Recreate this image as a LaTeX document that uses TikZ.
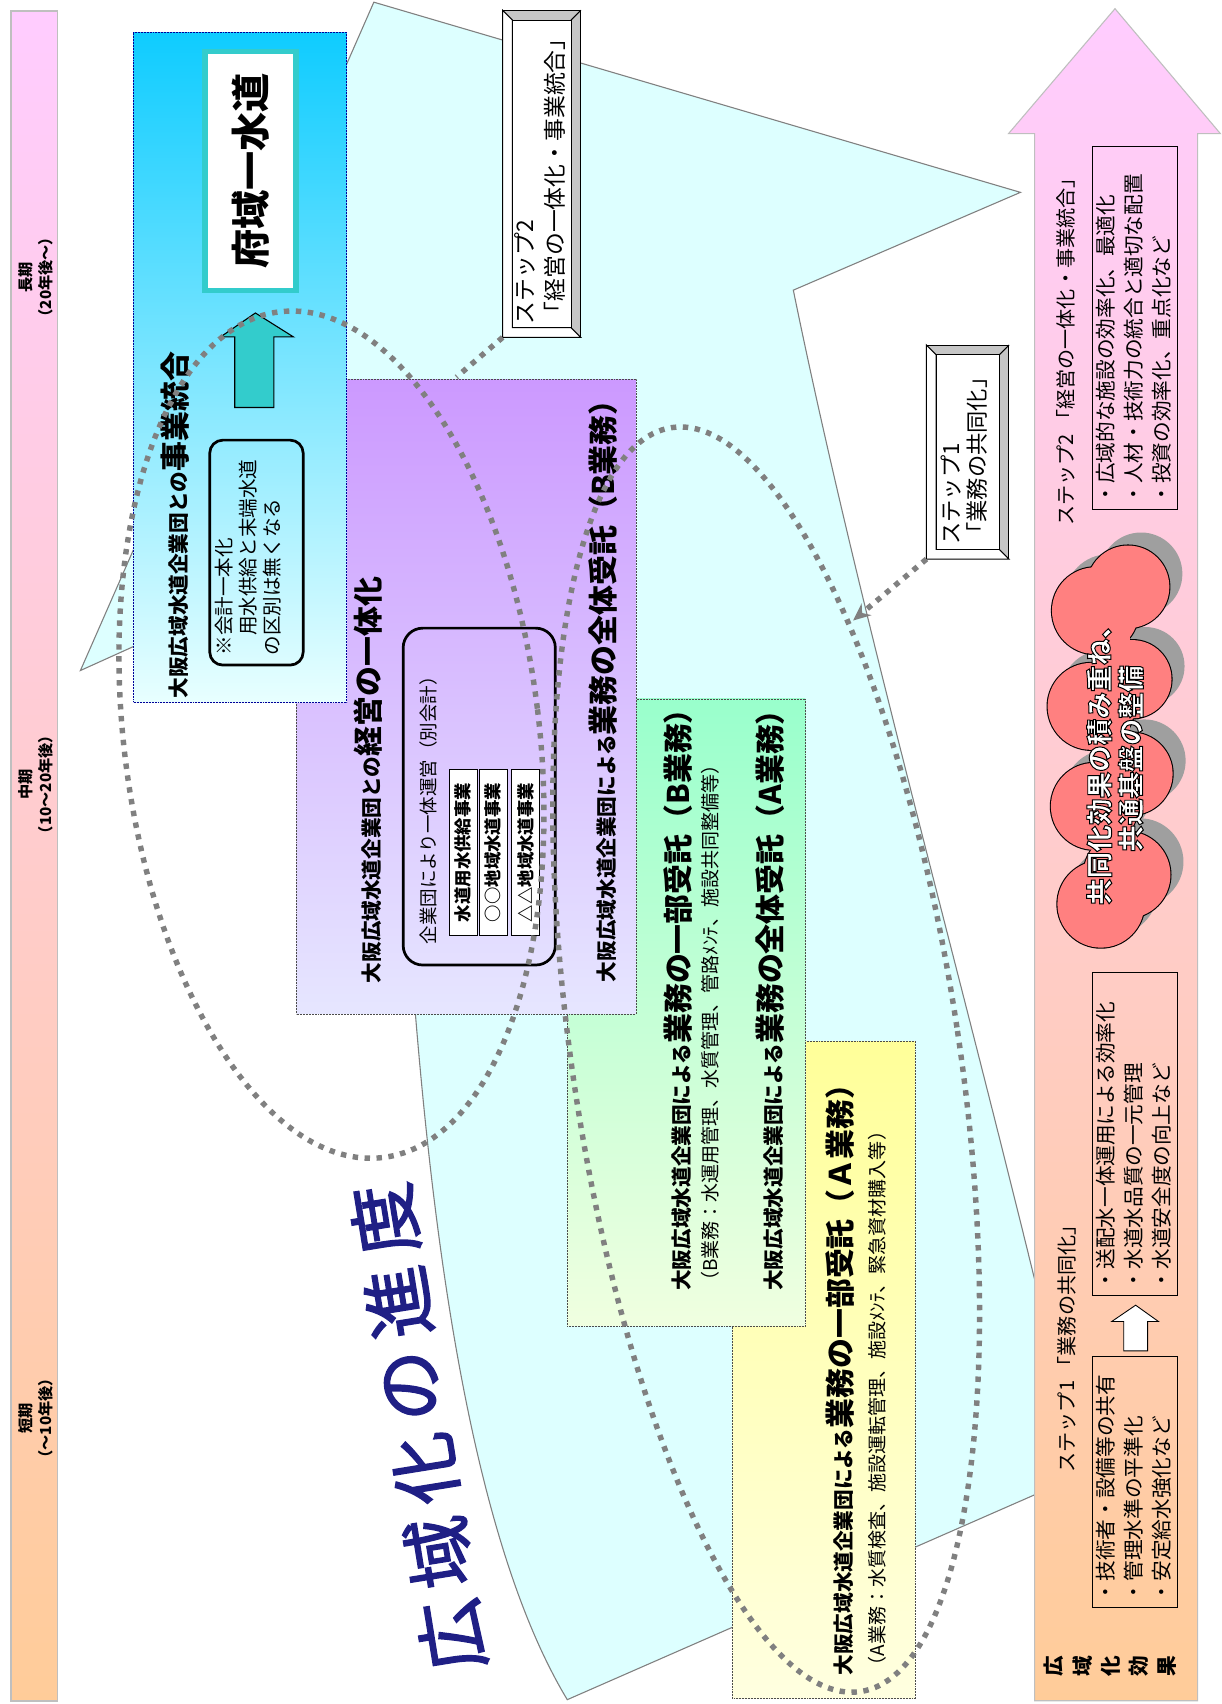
\documentclass[tikz,border=0pt]{standalone}
\usepackage{fontspec}
\setmainfont{Noto Sans CJK JP}
\usetikzlibrary{positioning,calc,arrows.meta}

\definecolor{barpink}{HTML}{FFCCFF}
\definecolor{barorange}{HTML}{FFCC99}
\definecolor{progcyan}{HTML}{DDFFFF}
\definecolor{mergeblue}{HTML}{0FCCFF}
\definecolor{mergepale}{HTML}{E8FFFF}
\definecolor{unitpurple}{HTML}{CC99FF}
\definecolor{unitpale}{HTML}{E6E6FF}
\definecolor{bmint}{HTML}{99FFCC}
\definecolor{bpale}{HTML}{F0FFE0}
\definecolor{ayellow}{HTML}{FFFF99}
\definecolor{apale}{HTML}{FFFFE0}
\definecolor{tealc}{HTML}{33CCCC}
\definecolor{cloudred}{HTML}{FF8080}
\definecolor{titlenavy}{HTML}{1F1F85}

\newcommand\bigpart[1]{{\fontsize{27.5}{30}\selectfont #1}}
% stroked text: #1 = stroke settings
\newcommand\stroked[2]{\special{pdf:literal direct 2 Tr #1}#2\special{pdf:literal direct 0 Tr}}
% puffs of the cloud: x/y/radius
\newcommand\puffs{1008/562/40,1004/650/40,1007/742/40,1013/832/40,
  1038/540/38,1042/625/36,1041/712/38,1037/805/40}

\begin{document}
\begin{tikzpicture}[x=1pt,y=-1pt,
  vtext/.style={rotate=90,inner sep=0pt},
  scroll/.style={draw=black!70,densely dotted,inner sep=0pt},
  listbox/.style={draw=black,line width=0.8pt,inner sep=0pt},
  ring/.style={draw=gray,line width=5pt,dash pattern=on 5pt off 6pt},
  boldline/.style={vtext,anchor=west,font=\bfseries\fontsize{19}{22}\selectfont},
  subline/.style={vtext,anchor=west,font=\fontsize{17.5}{20}\selectfont},
  listtext/.style={vtext,anchor=north west,align=left,font=\fontsize{19}{25.5}\selectfont}]
  \useasboundingbox (0,0) rectangle (1124,1568);

  % time axis
  \node[draw=gray!50,line width=1.5pt,top color=barpink,bottom color=barorange,
        minimum width=43,minimum height=1555,inner sep=0pt] (timebar) at (31.5,787.5) {};
  \tikzset{termlabel/.style={vtext,align=center,font=\bfseries\fontsize{14}{19}\selectfont}}
  \node[termlabel] (longterm)  at (33,255)  {長期\\（20年後～）};
  \node[termlabel] (midterm)   at (33,722)  {中期\\（10～20年後）};
  \node[termlabel] (shortterm) at (33,1305) {短期\\（～10年後）};

  % progress shape
  \draw[fill=progcyan,draw=gray,line width=1pt] (74,617) -- (344,2) -- (939,177) -- (730,267)
    .. controls (790,560) and (880,880) .. (960,1210) -- (960,1372) -- (522,1564)
    .. controls (435,1420) and (400,1150) .. (382,930) -- (355,490) -- cycle;

  % stacked stages
  \node[scroll,top color=ayellow,bottom color=apale,minimum width=168,minimum height=605] (abox) at (758,1260.5) {};
  \node[scroll,top color=bmint,bottom color=bpale,minimum width=219,minimum height=577] (bbox) at (631.5,931.5) {};
  \node[scroll,top color=unitpurple,bottom color=unitpale,minimum width=312,minimum height=584] (unitbox) at (429,641) {};
  \node[scroll,draw=blue!60!black,top color=mergeblue,bottom color=mergepale,minimum width=196,minimum height=616] (mergebox) at (221,338) {};

  % merger stage
  \node[draw=tealc,line width=5pt,fill=white,minimum width=84,minimum height=220] (prefbox) at (230.5,157.5) {};
  \node[vtext,font=\bfseries\fontsize{36}{40}\selectfont] (preftext) at (prefbox) {府域一水道};
  \draw[fill=tealc,line width=1pt] (216,375) -- (216,310) -- (203,310) -- (235,288) -- (270,310) -- (252,310) -- (252,375) -- cycle;
  \node[draw,line width=2.5pt,rounded corners=12pt,minimum width=86,minimum height=207] (notebox) at (236,508.5) {};
  \node[vtext,anchor=north west,align=left,font=\fontsize{18}{22}\selectfont] (notetext)
    at ([shift={(6,-10)}]notebox.south west) {※会計一本化\\　用水供給と末端水道\\の区別は無くなる};
  \node[boldline] (mergetitle) at (161,643) {大阪広域水道企業団との\bigpart{事業統合}};

  % management stage
  \node[boldline] (unittitle) at (339,905) {大阪広域水道企業団との\bigpart{経営の一体化}};
  \node[draw,line width=2.5pt,rounded corners=18pt,minimum width=140,minimum height=310] (jointbox) at (441,733) {};
  \node[vtext,anchor=west,font=\fontsize{17}{20}\selectfont] (jointtext) at (394,869) {企業団により一体運営（別会計）};
  \tikzset{cell/.style={vtext,draw,fill=white,minimum width=153,minimum height=26,inner sep=1pt,font=\bfseries\fontsize{16}{18}\selectfont}}
  \node[cell] (supplycell) at (426,784.5) {水道用水供給事業};
  \node[cell] (areacell)   at (454,784.5) {○○地域水道事業};
  \node[cell] (areacellb)  at (483.5,784.5) {△△地域水道事業};
  \node[boldline] (unitwhole) at (555,904) {大阪広域水道企業団による\bigpart{業務の全体受託（B業務）}};

  % B stage
  \node[boldline] (bpart) at (624,1188) {大阪広域水道企業団による\bigpart{業務の一部受託（B業務）}};
  \node[subline] (bpartnote) at (654,1188) {（B業務：水運用管理、水質管理、管路ﾒﾝﾃ、施設共同整備等）};
  \node[boldline] (awhole) at (709,1188) {大阪広域水道企業団による\bigpart{業務の全体受託（A業務）}};

  % A stage
  \node[boldline] (apart) at (773,1542) {大阪広域水道企業団による\bigpart{業務の一部受託（Ａ業務）}};
  \node[subline] (apartnote) at (807,1542) {（A業務：水質検査、施設運転管理、施設ﾒﾝﾃ、緊急資材購入等）};

  % title, one glyph per node along a slanted line
  \foreach \c [count=\i from 0] in {広,域,化,の,進,度}
    \node[rotate=99.2,text=titlenavy,inner sep=0pt,font=\fontsize{66}{70}\selectfont] (title\i)
      at (416-12.4*\i,1505-76.6*\i) {\stroked{1.3 w 0.12 0.12 0.52 RG}{\c}};

  % step frames
  \tikzset{bevel/.style={draw,fill=gray!45,line width=1pt,inner sep=0pt}}
  \node[bevel,minimum width=71,minimum height=300] (step2box) at (498.5,160) {};
  \node[bevel,minimum width=75,minimum height=196] (step1box) at (890.5,416) {};
  \foreach \b in {step2box,step1box}{
    \draw[fill=white,line width=1pt] (\b.north west) -- ([shift={(9,9)}]\b.north west) -- ([shift={(9,-9)}]\b.south west)
      -- ([shift={(-9,-9)}]\b.south east) -- (\b.south east) -- (\b.south west) -- cycle;
    \draw[fill=white,line width=1pt] ([shift={(9,9)}]\b.north west) rectangle ([shift={(-9,-9)}]\b.south east);
    \draw[line width=1pt] (\b.north east) -- ([shift={(-9,9)}]\b.north east);
  }
  \node[vtext,anchor=north west,align=left,font=\fontsize{21}{27}\selectfont] (step2text)
    at ([shift={(11,-12)}]step2box.south west) {ステップ2\\「経営の一体化・事業統合」};
  \node[vtext,anchor=north west,align=left,font=\fontsize{20.5}{24}\selectfont] (step1text)
    at ([shift={(13,-13)}]step1box.south west) {ステップ1\\「業務の共同化」};

  % effect arrow
  \draw[draw=gray!50,line width=1pt,top color=barpink,bottom color=barorange]
    (952,1565) -- (952,123) -- (928,123) -- (1026,8) -- (1123,123) -- (1102,123) -- (1102,1565) -- cycle;
  \node[vtext,anchor=west,font=\fontsize{18.5}{22}\selectfont] (step2label) at (981,484) {ステップ2 「経営の一体化・事業統合」};
  \node[listbox,minimum width=78,minimum height=334] (s2list) at (1044,302) {};
  \node[listtext] (s2items) at ([shift={(4,-5)}]s2list.south west) {・広域的な施設の効率化、最適化\\・人材・技術力の統合と適切な配置\\・投資の効率化、重点化など};
  % cloud: shadow, outline, then fill over the inner strokes
  \foreach \px/\py/\pr in \puffs
    \fill[gray!75] (\px+12,\py-12) circle [radius=\pr];
  \foreach \px/\py/\pr in \puffs
    \draw[line width=2pt] (\px,\py) circle [radius=\pr];
  \foreach \px/\py/\pr in \puffs
    \fill[cloudred] (\px,\py) circle [radius=\pr];
  \fill[cloudred] (1005,560) rectangle (1040,830);
  \node[vtext,align=center,text=white,font=\bfseries\fontsize{24.5}{29}\selectfont] (cloudtext) at (1026,698)
    {\stroked{0.9 w 0 0 0 RG}{共同化効果の積み重ね、}\\\stroked{0.9 w 0 0 0 RG}{共通基盤の整備}};
  \node[vtext,anchor=west,font=\fontsize{18.5}{22}\selectfont] (step1label) at (982,1355) {ステップ1 「業務の共同化」};
  \node[listbox,minimum width=78,minimum height=297] (s1after) at (1044,1043.5) {};
  \node[listtext] (s1aftertext) at ([shift={(4,-5)}]s1after.south west) {・送配水一体運用による効率化\\・水道水品質の一元管理\\・水道安全度の向上など};
  \node[listbox,minimum width=78,minimum height=231] (s1before) at (1044,1363.5) {};
  \node[listtext] (s1beforetext) at ([shift={(4,-5)}]s1before.south west) {・技術者・設備等の共有\\・管理水準の平準化\\・安定給水強化など};
  \draw[fill=white,line width=0.8pt] (1034,1243) -- (1034,1216) -- (1023,1216) -- (1045,1201) -- (1066,1216) -- (1056,1216) -- (1056,1243) -- cycle;
  \foreach \c [count=\i from 0] in {広,域,化,効,果}
    \node[vtext,font=\bfseries\fontsize{19}{20}\selectfont] (fx\i) at (970+26*\i,1533) {\c};

  % dotted rings
  \draw[ring,rotate around={7:(305,676)}] (305,676) ellipse [x radius=191,y radius=392];
  \draw[ring,rotate around={8.5:(705,975)}] (705,975) ellipse [x radius=178,y radius=588];

  \tikzset{dotlink/.style={draw=gray,line width=5pt,dash pattern=on 5pt off 6pt}}
  \coordinate (ringtop) at (420,347);
  \draw[dotlink] (step2box.south west) -- (ringtop);
  \coordinate (ringside) at (785,571);
  \draw[dotlink,-{Stealth[length=16pt,width=14pt]}] (step1box.south west) -- (ringside);
\end{tikzpicture}
\end{document}
